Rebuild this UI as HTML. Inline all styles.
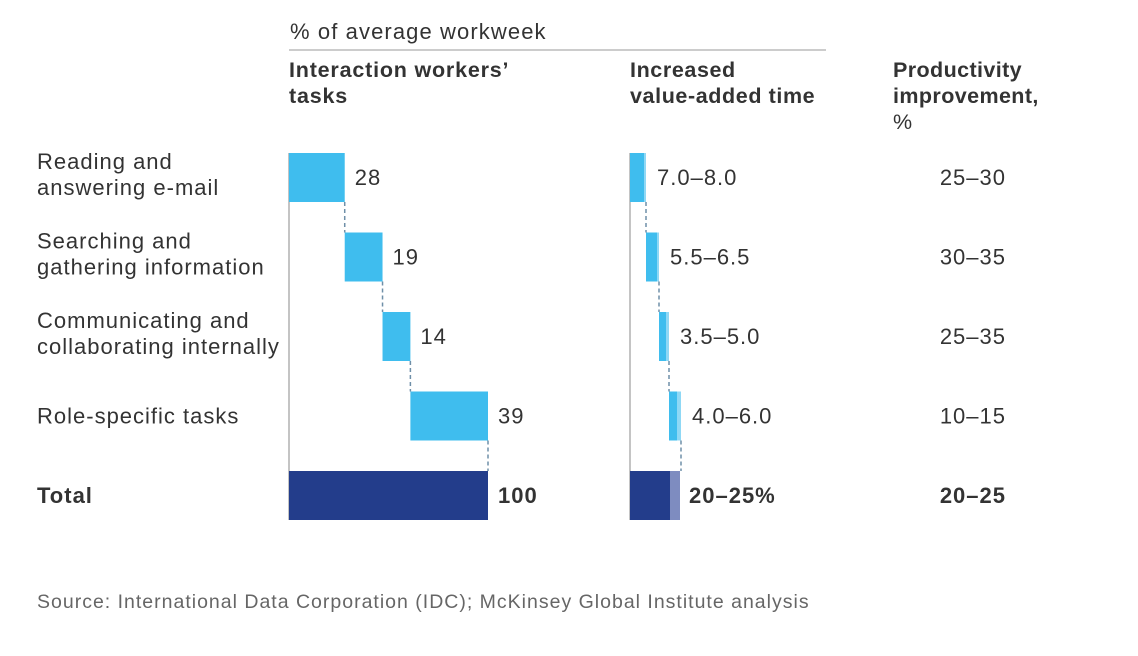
<!DOCTYPE html>
<html><head><meta charset="utf-8"><style>
body{margin:0;background:#fff;}
svg text{font-family:"Liberation Sans",Arial,sans-serif;fill:#333;letter-spacing:1px;}
</style></head><body>
<svg width="1138" height="651" xmlns="http://www.w3.org/2000/svg" id="chart">
<text x="290" y="39" font-size="22" style="letter-spacing:1.1px">% of average workweek</text>
<line x1="289" y1="50" x2="826" y2="50" stroke="#bbb" stroke-width="1.5"/>
<text font-size="21.5" font-weight="bold" style="letter-spacing:0.8px"><tspan x="289" y="77">Interaction workers’</tspan><tspan x="289" y="103">tasks</tspan></text>
<text font-size="21.5" font-weight="bold" style="letter-spacing:0.6px"><tspan x="630" y="77">Increased</tspan><tspan x="630" y="103">value-added time</tspan></text>
<text font-size="21.5" font-weight="bold" style="letter-spacing:0.4px"><tspan x="893" y="77">Productivity</tspan><tspan x="893" y="103">improvement,</tspan><tspan x="893" y="129" font-weight="normal">%</tspan></text>
<g id="g"></g>
<text x="37" y="608" font-size="19.5" style="fill:#666;letter-spacing:1px">Source: International Data Corporation (IDC); McKinsey Global Institute analysis</text>
</svg>
<script>
const categories=[["Reading and","answering e-mail"],["Searching and","gathering information"],["Communicating and","collaborating internally"],["Role-specific tasks"]];
const taskShares=[28,19,14,39];
const taskTotal=100;
const vaLow=[7.0,5.5,3.5,4.0];
const vaHigh=[8.0,6.5,5.0,6.0];
const vaLabels=["7.0–8.0","5.5–6.5","3.5–5.0","4.0–6.0"];
const totalLow=20,totalHigh=25;
const prodLabels=["25–30","30–35","25–35","10–15"];
const prodTotal="20–25";
const NS="http://www.w3.org/2000/svg";
const g=document.getElementById('g');
function mk(t,a,txt){const e=document.createElementNS(NS,t);for(const k in a)e.setAttribute(k,a[k]);if(txt!=null)e.textContent=txt;g.appendChild(e);return e;}
const x1=v=>289+v*1.99, x2=v=>630+v*2.0;
const rowY=i=>153+i*79.5, BH=49, FS=22;
let a=mk('line',{x1:289,y1:153,x2:289,y2:520,stroke:'#888','stroke-width':1});

a=mk('line',{x1:630,y1:153,x2:630,y2:520,stroke:'#888','stroke-width':1});

let cum=0,cum2=0;
categories.forEach((c,i)=>{
  const y=rowY(i);
  let t=mk('text',{'font-size':FS});
  
  if(c.length==1){const s=document.createElementNS(NS,'tspan');s.setAttribute('x',37);s.setAttribute('y',y+32);s.textContent=c[0];t.appendChild(s);}
  else c.forEach((l,j)=>{const s=document.createElementNS(NS,'tspan');s.setAttribute('x',37);s.setAttribute('y',y+16+j*26);s.textContent=l;t.appendChild(s);});
  const b=mk('rect',{x:x1(cum),y:y,width:x1(cum+taskShares[i])-x1(cum),height:BH,fill:'#3fbdee'});
  
  const v=mk('text',{x:x1(cum+taskShares[i])+10,y:y+32,'font-size':FS},taskShares[i]);
  
  cum+=taskShares[i];
  const d=mk('line',{x1:x1(cum),y1:y+BH,x2:x1(cum),y2:rowY(i+1),stroke:'#6f8fa8','stroke-width':1.5,'stroke-dasharray':'4,3'});
  
  const lb=mk('rect',{x:x2(cum2),y:y,width:x2(cum2+vaHigh[i])-x2(cum2),height:BH,fill:'#8fd8f5'});
  
  const db=mk('rect',{x:x2(cum2),y:y,width:x2(cum2+vaLow[i])-x2(cum2),height:BH,fill:'#3fbdee'});
  
  cum2+=vaHigh[i];
  const d2=mk('line',{x1:x2(cum2),y1:y+BH,x2:x2(cum2),y2:rowY(i+1),stroke:'#6f8fa8','stroke-width':1.5,'stroke-dasharray':'4,3'});
  
  const vl=mk('text',{x:x2(cum2)+11,y:y+32,'font-size':FS},vaLabels[i]);
  
  const p=mk('text',{x:1006,y:y+32,'font-size':FS,'text-anchor':'end'},prodLabels[i]);
  
});
const ty=rowY(4);
let e=mk('text',{x:37,y:ty+32,'font-size':FS,'font-weight':'bold'},'Total');

e=mk('rect',{x:x1(0),y:ty,width:x1(taskTotal)-x1(0),height:BH,fill:'#233d8b'});

e=mk('text',{x:x1(taskTotal)+10,y:ty+32,'font-size':FS,'font-weight':'bold'},taskTotal);

e=mk('rect',{x:x2(0),y:ty,width:x2(totalHigh)-x2(0),height:BH,fill:'#7e8cc0'});

e=mk('rect',{x:x2(0),y:ty,width:x2(totalLow)-x2(0),height:BH,fill:'#233d8b'});

e=mk('text',{x:x2(totalHigh)+9,y:ty+32,'font-size':FS,'font-weight':'bold'},totalLow+'–'+totalHigh+'%');

e=mk('text',{x:1006,y:ty+32,'font-size':FS,'font-weight':'bold','text-anchor':'end'},prodTotal);

</script>
</body></html>
